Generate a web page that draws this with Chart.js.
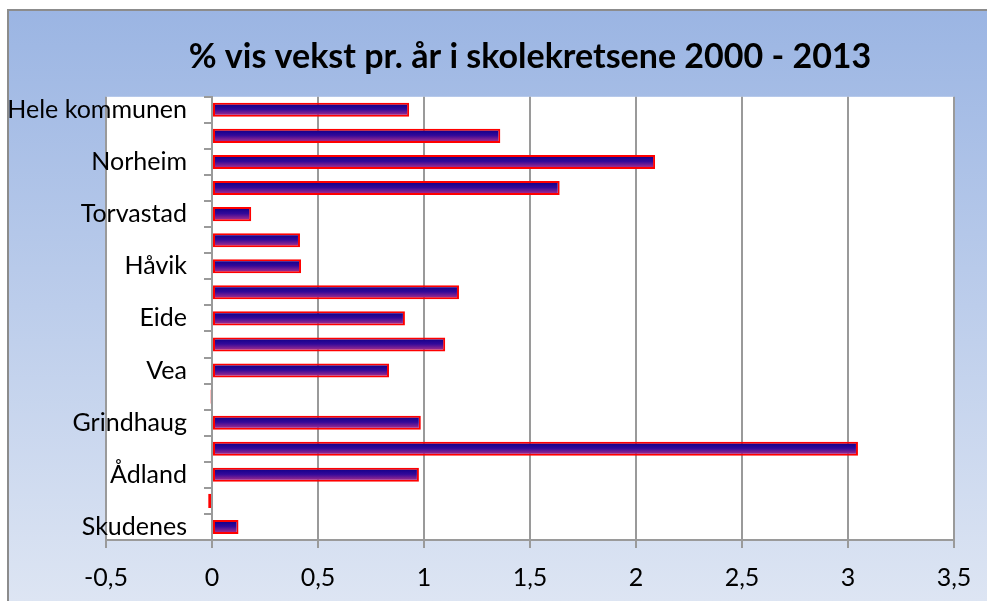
<!DOCTYPE html>
<html>
<head>
<meta charset="utf-8">
<script src="https://cdn.jsdelivr.net/npm/chart.js@4/dist/chart.umd.min.js"></script>
<style>
  html, body { margin: 0; padding: 0; background: #fff; }
  #wrap { width: 987px; height: 601px; }
</style>
</head>
<body>
<div id="wrap"><canvas id="chartGrowth" width="987" height="601"></canvas></div>
<script>
// school districts, top to bottom (unlabelled rows are unreadable in the picture)
const districts = ['Hele kommunen', '', 'Norheim', '', 'Torvastad', '', 'Håvik', '', 'Eide', '', 'Vea', '', 'Grindhaug', '', 'Ådland', '', 'Skudenes'];
// yearly growth in percent
const growth = [0.93, 1.36, 2.09, 1.64, 0.185, 0.415, 0.42, 1.165, 0.91, 1.10, 0.835, -0.007, 0.985, 3.047, 0.976, -0.018, 0.125];
const xTicks = [-0.5, 0, 0.5, 1, 1.5, 2, 2.5, 3, 3.5];

const FONT = 'Lato, "Open Sans", sans-serif';
const GRID = '#9a9a9a';

// background panel + white plot area
const backdrop = {
  id: 'backdrop',
  beforeDraw(chart){
    const c = chart.ctx;
    const area = chart.chartArea;
    c.save();
    c.fillStyle = '#fff';
    c.fillRect(0, 0, chart.width, chart.height);
    let bg = c.createLinearGradient(0, 10, 0, chart.height);
    bg.addColorStop(0, '#9bb5e3');
    bg.addColorStop(1, '#dde5f3');
    c.fillStyle = bg;
    c.fillRect(8, 10, chart.width, chart.height);
    c.strokeStyle = '#8c8c8c';
    c.lineWidth = 2;
    c.beginPath();
    c.moveTo(8, chart.height + 2);
    c.lineTo(8, 10);
    c.lineTo(chart.width + 2, 10);
    c.stroke();
    c.fillStyle = '#fff';
    c.fillRect(area.left, area.top, area.right - area.left, area.bottom - area.top);
    c.restore();
  }
};

// vertical gradient in each bar
function barFill(context){
  const chart = context.chart;
  if(!chart.chartArea || !chart.scales.y) return '#3a0a8c';
  const yScale = chart.scales.y;
  const yc = yScale.getPixelForValue(context.dataIndex);
  const half = 5.5;
  let g = chart.ctx.createLinearGradient(0, yc - half, 0, yc + half);
  g.addColorStop(0, '#14008a');
  g.addColorStop(0.45, '#32099a');
  g.addColorStop(1, '#a42c8e');
  return g;
}

var ctx = document.getElementById('chartGrowth').getContext('2d');

new Chart(ctx, {
  type: 'bar',
  data: {
    labels: districts,
    datasets: [{
      data: growth,
      yAxisID: 'y',
      backgroundColor: barFill,
      borderColor: '#ff0000',
      borderWidth: 2,
      borderSkipped: false,
      categoryPercentage: 1,
      barPercentage: 0.54
    }]
  },
  plugins: [backdrop],
  options: {
    indexAxis: 'y',
    responsive: false,
    animation: false,
    layout: {
      padding: { left: 106, right: 33, top: 0, bottom: 0 }
    },
    scales: {
      x: {
        min: -0.5,
        max: 3.5,
        afterBuildTicks: (scale) => { scale.ticks = xTicks.map(v => ({ value: v })); },
        afterFit: (scale) => { scale.height = 61; },
        ticks: {
          color: '#000',
          font: { family: FONT, size: 25 },
          padding: 15,
          callback: (v) => String(v).replace('.', ',')
        },
        grid: { color: GRID, lineWidth: 2, tickLength: 8 },
        border: { display: true, color: GRID, width: 2 }
      },
      // category axis line with tick marks, crossing at 0
      y: {
        type: 'category',
        position: { x: 0 },
        offset: true,
        ticks: { display: false },
        grid: { color: GRID, lineWidth: 2, tickLength: 7, drawOnChartArea: false, offset: true },
        border: { display: true, color: GRID, width: 2 }
      },
      // district names, set a little left of the axis line
      yLabels: {
        type: 'category',
        axis: 'y',
        position: { x: -0.118 },
        offset: true,
        ticks: {
          color: '#000',
          font: { family: FONT, size: 25 },
          autoSkip: false
        },
        grid: { display: false, drawTicks: false },
        border: { display: false }
      }
    },
    plugins: {
      legend: { display: false },
      tooltip: { enabled: false },
      title: {
        display: true,
        text: '% vis vekst pr. år i skolekretsene 2000 - 2013',
        color: '#000',
        font: { family: FONT, size: 34, weight: 'bold' },
        padding: { top: 37, bottom: 19 }
      }
    }
  }
});
</script>
</body>
</html>
